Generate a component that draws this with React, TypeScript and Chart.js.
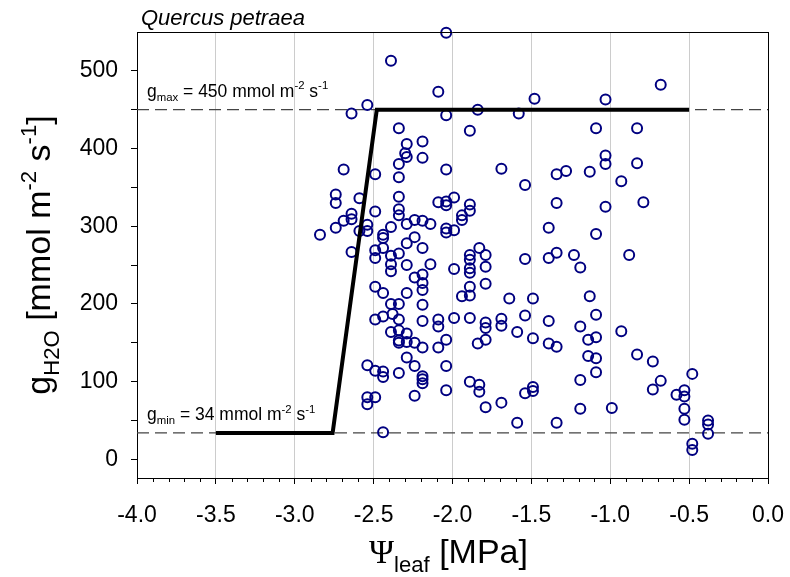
import React, { useEffect, useRef } from 'react';
import { Chart, registerables } from 'chart.js';

Chart.register(...registerables);

// Leaf water potential (MPa) of each observation
const psiLeaf = [
  -2.04, -2.39, -2.09, -2.54, -2.64, -2.04, -1.84, -1.89, -2.34, -2.29,
  -2.19, -2.29, -2.30, -2.19, -2.34, -2.69, -2.04, -1.69, -1.48, -1.58,
  -1.03, -0.68, -1.09, -0.83, -1.03, -1.03, -0.83, -1.28, -1.34, -1.13,
  -1.54, -0.93, -1.34, -1.03, -0.79, -1.39, -1.09, -1.54, -1.39, -1.34,
  -1.23, -1.19, -0.88, -1.79, -1.79, -1.83, -1.79, -1.64, -1.49, -1.13,
  -1.69, -1.54, -1.39, -1.09, -1.79, -1.79, -1.69, -1.19, -1.59, -1.49,
  -1.14, -1.09, -1.84, -1.79, -1.39, -1.34, -0.93, -1.14, -1.09, -0.83,
  -0.73, -1.09, -1.19, -0.48, -0.68, -0.73, -1.89, -1.83, -1.83, -1.49,
  -1.49, -1.54, -0.53, -0.58, -0.53, -1.79, -1.69, -1.19, -0.99, -0.53,
  -0.53, -1.59, -1.34, -0.38, -0.38, -0.38, -0.48, -0.48, -2.74, -2.74,
  -2.59, -2.34, -2.49, -2.34, -2.49, -2.34, -2.34, -2.09, -2.04, -2.04,
  -1.99, -1.89, -1.89, -1.94, -1.94, -2.64, -2.64, -2.69, -2.74, -2.84,
  -2.59, -2.54, -2.54, -2.39, -2.29, -2.24, -2.19, -2.14, -2.04, -2.04,
  -1.99, -2.44, -2.44, -2.24, -2.29, -2.64, -2.49, -2.44, -2.49, -2.39,
  -2.34, -2.19, -1.89, -1.89, -2.39, -2.39, -2.29, -2.14, -2.19, -2.24,
  -1.99, -1.89, -1.89, -2.49, -2.44, -2.29, -2.19, -2.19, -1.89, -1.94,
  -1.89, -2.39, -2.34, -2.19, -2.49, -2.44, -2.38, -2.34, -2.19, -2.09,
  -1.99, -1.89, -2.09, -2.39, -2.34, -2.29, -2.34, -2.34, -2.29, -2.24,
  -2.19, -2.09, -2.04, -2.29, -2.24, -2.54, -2.49, -2.44, -2.44, -2.34,
  -2.19, -2.19, -2.19, -2.04, -2.04, -2.24, -2.54, -2.49, -2.54, -2.44,
];

// Stomatal conductance (mmol m-2 s-1) of each observation
const gH2O = [
  549, 513, 473, 456, 445, 443, 450, 423, 426, 406,
  409, 389, 394, 388, 380, 373, 373, 374, 464, 445,
  463, 482, 426, 426, 391, 380, 381, 371, 367, 370,
  353, 358, 330, 325, 331, 298, 290, 258, 259, 266,
  263, 247, 263, 263, 248, 272, 226, 207, 207, 210,
  181, 185, 178, 186, 176, 169, 172, 171, 164, 156,
  154, 157, 149, 154, 149, 145, 165, 133, 130, 135,
  126, 112, 102, 110, 101, 90, 100, 96, 87, 93,
  88, 85, 89, 83, 81, 67, 73, 65, 66, 65,
  51, 47, 47, 50, 45, 33, 20, 12, 341, 330,
  336, 338, 367, 363, 319, 322, 314, 331, 332, 327,
  337, 328, 320, 314, 308, 316, 309, 307, 298, 289,
  294, 302, 294, 299, 303, 308, 307, 303, 297, 292,
  295, 289, 285, 286, 278, 267, 269, 272, 259, 262,
  265, 272, 263, 257, 251, 242, 250, 251, 238, 234,
  245, 246, 240, 222, 214, 214, 227, 218, 222, 210,
  211, 200, 200, 199, 180, 184, 187, 180, 178, 180,
  182, 182, 171, 164, 166, 162, 153, 150, 151, 150,
  144, 144, 154, 131, 120, 121, 114, 113, 106, 111,
  107, 103, 98, 120, 89, 82, 80, 80, 71, 35,
];

// Piecewise model line
const modelPsi = [-3.5, -2.76, -2.48, -0.5];
const modelG = [34, 34, 450, 450];

const G_MAX = 450;
const G_MIN = 34;

const X_MIN = -4;
const X_MAX = 0;
const Y_MIN = -24;
const Y_MAX = 550;

const xMajorTicks = [-4.0, -3.5, -3.0, -2.5, -2.0, -1.5, -1.0, -0.5, 0.0];
const yTicks = [0, 50, 100, 150, 200, 250, 300, 350, 400, 450, 500];
const yLabelTicks = [0, 100, 200, 300, 400, 500];

const SANS = '"Liberation Sans", Arial, Helvetica, sans-serif';
const SERIF = '"Liberation Serif", "DejaVu Serif", serif';

type Part = { t: string; k?: 'sub' | 'sup'; f?: string };

function richWidth(ctx: CanvasRenderingContext2D, parts: Part[], size: number) {
  let w = 0;
  for (const p of parts) {
    const s = p.k ? size * 0.65 : size;
    ctx.font = `${s}px ${p.f || SANS}`;
    w += ctx.measureText(p.t).width;
  }
  return w;
}

function drawRich(ctx: CanvasRenderingContext2D, x: number, y: number, parts: Part[], size: number) {
  let cx = x;
  ctx.textBaseline = 'alphabetic';
  ctx.textAlign = 'left';
  for (const p of parts) {
    const s = p.k ? size * 0.65 : size;
    ctx.font = `${s}px ${p.f || SANS}`;
    const dy = p.k === 'sub' ? size * 0.25 : p.k === 'sup' ? -size * 0.42 : 0;
    ctx.fillText(p.t, cx, y + dy);
    cx += ctx.measureText(p.t).width;
  }
}

const decorPlugin = {
  id: 'decor',
  afterDraw(chart: any) {
    const ctx: CanvasRenderingContext2D = chart.ctx;
    const { left, right, top, bottom } = chart.chartArea;
    const xs = chart.scales.x;
    ctx.save();
    // frame
    ctx.strokeStyle = '#000';
    ctx.lineWidth = 1;
    ctx.beginPath();
    ctx.moveTo(left, Math.round(top) + 0.5);
    ctx.lineTo(right, Math.round(top) + 0.5);
    ctx.moveTo(Math.round(right) + 0.5, top);
    ctx.lineTo(Math.round(right) + 0.5, bottom);
    ctx.stroke();
    // minor x ticks
    ctx.beginPath();
    for (let i = 0; i <= 40; i++) {
      if (i % 5 === 0) continue;
      const px = Math.round(xs.getPixelForValue(X_MIN + i * 0.1)) + 0.5;
      ctx.moveTo(px, bottom);
      ctx.lineTo(px, bottom + 4);
    }
    ctx.stroke();

    ctx.fillStyle = '#000';
    // title
    ctx.font = `italic 22px ${SANS}`;
    ctx.textBaseline = 'alphabetic';
    ctx.textAlign = 'left';
    ctx.fillText('Quercus petraea', 141, 25);

    // annotations
    const ys = chart.scales.y;
    const annSize = 17.5;
    drawRich(ctx, 147, ys.getPixelForValue(G_MAX) - 13, [
      { t: 'g' }, { t: 'max', k: 'sub' }, { t: ' = 450 mmol m' }, { t: '-2', k: 'sup' }, { t: ' s' }, { t: '-1', k: 'sup' },
    ], annSize);
    drawRich(ctx, 147, ys.getPixelForValue(G_MIN) - 13, [
      { t: 'g' }, { t: 'min', k: 'sub' }, { t: ' = 34 mmol m' }, { t: '-2', k: 'sup' }, { t: ' s' }, { t: '-1', k: 'sup' },
    ], annSize);

    // x axis title
    const xParts: Part[] = [{ t: 'Ψ', f: SERIF }, { t: 'leaf', k: 'sub' }, { t: ' [MPa]' }];
    const xw = richWidth(ctx, xParts, 34);
    drawRich(ctx, (left + right) / 2 - xw / 2 - 4, 563, xParts, 34);

    // y axis title
    const yParts: Part[] = [
      { t: 'g' }, { t: 'H2O', k: 'sub' }, { t: ' [mmol m' }, { t: '-2', k: 'sup' }, { t: ' s' }, { t: '-1', k: 'sup' }, { t: ']' },
    ];
    const yw = richWidth(ctx, yParts, 34);
    ctx.translate(50, 255);
    ctx.rotate(-Math.PI / 2);
    drawRich(ctx, -yw / 2, 0, yParts, 34);
    ctx.restore();
  },
};

export default function App() {
  const ref = useRef<HTMLCanvasElement | null>(null);

  useEffect(() => {
    if (!ref.current) return;
    const points = psiLeaf.map((x, i) => ({ x, y: gH2O[i] }));
    const model = modelPsi.map((x, i) => ({ x, y: modelG[i] }));
    const chart = new Chart(ref.current, {
      type: 'scatter',
      data: {
        datasets: [
          {
            label: 'model',
            data: model,
            showLine: true,
            borderColor: '#000',
            borderWidth: 4,
            pointRadius: 0,
            order: 0,
          } as any,
          {
            label: 'observations',
            data: points,
            pointRadius: 5,
            pointBorderWidth: 2,
            borderColor: '#000080',
            backgroundColor: 'rgba(0,0,0,0)',
            pointStyle: 'circle',
            order: 1,
            clip: false,
          } as any,
          {
            label: 'gmax',
            data: [{ x: X_MIN, y: G_MAX }, { x: X_MAX, y: G_MAX }],
            showLine: true,
            borderColor: '#444',
            borderWidth: 1.2,
            borderDash: [12, 6],
            pointRadius: 0,
            order: 2,
          } as any,
          {
            label: 'gmin',
            data: [{ x: X_MIN, y: G_MIN }, { x: X_MAX, y: G_MIN }],
            showLine: true,
            borderColor: '#444',
            borderWidth: 1.2,
            borderDash: [12, 6],
            pointRadius: 0,
            order: 2,
          } as any,
        ],
      },
      options: {
        responsive: false,
        animation: false,
        devicePixelRatio: 1,
        layout: { padding: { top: 32, right: 22, left: 0, bottom: 0 } },
        plugins: {
          legend: { display: false },
          tooltip: { enabled: false },
          title: { display: false },
        },
        scales: {
          x: {
            type: 'linear',
            min: X_MIN,
            max: X_MAX,
            afterBuildTicks: (s: any) => {
              s.ticks = xMajorTicks.map((v) => ({ value: v }));
            },
            afterFit: (s: any) => {
              s.height = 99;
              s.paddingLeft = 0;
              s.paddingRight = 0;
            },
            ticks: {
              font: { family: SANS, size: 23 },
              color: '#000',
              padding: 18,
              maxRotation: 0,
              autoSkip: false,
              callback: (v: any) => Number(v).toFixed(1),
            },
            grid: {
              color: '#cccccc',
              lineWidth: 1,
              tickColor: '#000',
              tickLength: 6,
            },
            border: { color: '#000', width: 1 },
          },
          y: {
            type: 'linear',
            min: Y_MIN,
            max: Y_MAX,
            afterBuildTicks: (s: any) => {
              s.ticks = yTicks.map((v) => ({ value: v }));
            },
            afterFit: (s: any) => {
              s.width = 137;
              s.paddingTop = 0;
              s.paddingBottom = 0;
            },
            ticks: {
              font: { family: SANS, size: 23 },
              color: '#000',
              padding: 13,
              autoSkip: false,
              callback: (v: any) => (yLabelTicks.includes(Number(v)) ? String(v) : ''),
            },
            grid: {
              drawOnChartArea: false,
              tickColor: '#000',
              tickLength: 6,
            },
            border: { color: '#000', width: 1 },
          },
        },
      } as any,
      plugins: [decorPlugin],
    });
    return () => chart.destroy();
  }, []);

  return (
    <div style={{ position: 'fixed', left: 0, top: 0, width: 790, height: 577, background: '#fff' }}>
      <canvas ref={ref} width={790} height={577} />
    </div>
  );
}
